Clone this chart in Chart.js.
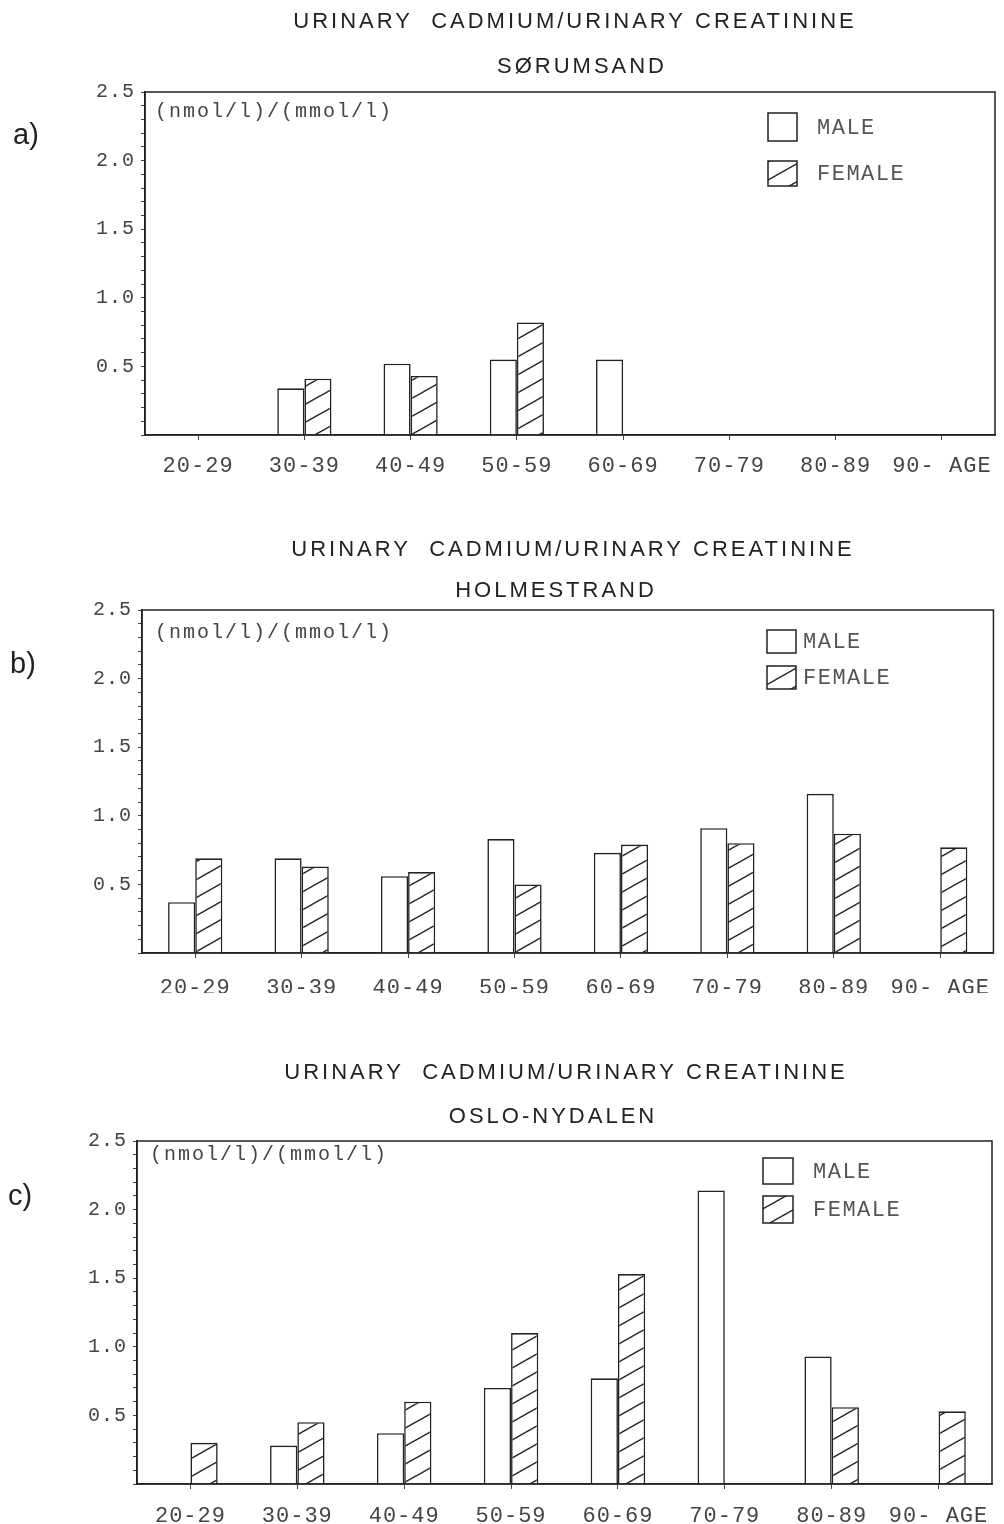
<!DOCTYPE html>
<html>
<head>
<meta charset="utf-8">
<script src="https://cdn.jsdelivr.net/npm/chart.js@4.4.0/dist/chart.umd.min.js"></script>
<style>
  html, body { margin: 0; padding: 0; background: #fff; }
  #wrap { position: relative; width: 1004px; height: 1524px; }
  canvas { position: absolute; left: 0; top: 0; }
</style>
</head>
<body>
<div id="wrap">
  <canvas id="chartA" width="1004" height="1524"></canvas>
  <canvas id="chartB" width="1004" height="1524"></canvas>
  <canvas id="chartC" width="1004" height="1524"></canvas>
</div>
<script>
// age groups and y tick labels
const ageGroups = ['20-29', '30-39', '40-49', '50-59', '60-69', '70-79', '80-89', '90-'];
const axisTitle = 'AGE';
const yTickLabels = ['0.5', '1.0', '1.5', '2.0', '2.5'];
const seriesNames = ['MALE', 'FEMALE'];
const mainTitle = 'URINARY  CADMIUM/URINARY CREATININE';
const unitLabel = '(nmol/l)/(mmol/l)';

// a) Sørumsand
const sorumsandMale   = [null, 0.34, 0.52, 0.55, 0.55, null, null, null];
const sorumsandFemale = [null, 0.41, 0.43, 0.82, null, null, null, null];

// b) Holmestrand
const holmestrandMale   = [0.37, 0.69, 0.56, 0.83, 0.73, 0.91, 1.16, null];
const holmestrandFemale = [0.69, 0.63, 0.59, 0.50, 0.79, 0.80, 0.87, 0.77];

// c) Oslo-Nydalen
const osloMale   = [null, 0.28, 0.37, 0.70, 0.77, 2.14, 0.93, null];
const osloFemale = [0.30, 0.45, 0.60, 1.10, 1.53, null, 0.56, 0.53];

const ink = '#222';
const mono = '"Liberation Mono", "Courier New", monospace';
const sans = '"Liberation Sans", Arial, sans-serif';

function makeHatch(ctx) {
    const w = 32, h = 18;
    const tile = document.createElement('canvas');
    tile.width = w; tile.height = h;
    const g = tile.getContext('2d');
    g.fillStyle = '#fff';
    g.fillRect(0, 0, w, h);
    g.strokeStyle = ink;
    g.lineWidth = 1.5;
    // same diagonal drawn three times so the tile corners join up
    [-h, 0, h].forEach(dy => {
        g.beginPath();
        g.moveTo(-4, h + dy + 4 * h / w);
        g.lineTo(w + 4, dy - 4 * h / w);
        g.stroke();
    });
    return ctx.createPattern(tile, 'repeat');
}

function yLabel(value) {
    const s = yTickLabels.find(l => Math.abs(Number(l) - value) < 1e-6);
    return s || '';
}

// frame round the plot area
const frame = {
    id: 'frame',
    afterDatasetsDraw(chart) {
        const a = chart.chartArea;
        const ctx = chart.ctx;
        ctx.save();
        ctx.strokeStyle = ink;
        ctx.lineWidth = 1.5;
        ctx.strokeRect(a.left, a.top, a.right - a.left, a.bottom - a.top);
        ctx.restore();
    }
};

// titles, panel letter, unit and legend
const panelText = {
    id: 'panelText',
    beforeDraw(chart) {
        chart.ctx.letterSpacing = '1px';
    },
    afterDraw(chart, args, o) {
        const ctx = chart.ctx;
        ctx.save();
        ctx.textBaseline = 'middle';

        ctx.fillStyle = '#222';
        ctx.textAlign = 'center';
        ctx.font = '22px ' + sans;
        ctx.letterSpacing = '3px';
        ctx.fillText(mainTitle, o.title[0], o.title[1]);
        ctx.fillText(o.place, o.place_xy[0], o.place_xy[1]);

        ctx.textAlign = 'left';
        ctx.letterSpacing = '0px';
        ctx.font = '29px ' + sans;
        ctx.fillText(o.letter, o.letter_xy[0], o.letter_xy[1]);

        ctx.fillStyle = '#444';
        ctx.font = '20px ' + mono;
        ctx.letterSpacing = '2px';
        ctx.fillText(unitLabel, o.unit[0], o.unit[1]);

        // legend
        ctx.font = '22px ' + mono;
        ctx.letterSpacing = '1.5px';
        chart.data.datasets.forEach((ds, i) => {
            const b = o.legend[i];
            ctx.fillStyle = ds.backgroundColor;
            ctx.fillRect(b[0], b[1], b[2], b[3]);
            ctx.strokeStyle = ink;
            ctx.lineWidth = 1.5;
            ctx.strokeRect(b[0], b[1], b[2], b[3]);
            ctx.fillStyle = '#555';
            ctx.fillText(ds.label, o.legendTextX, b[1] + b[3] / 2 + 1);
        });
        ctx.restore();
    }
};

function makeChart(id, male, female, p) {
    const canvas = document.getElementById(id);
    const ctx = canvas.getContext('2d');
    const xH = 40, yW = 60;
    return new Chart(ctx, {
        type: 'bar',
        data: {
            labels: ageGroups,
            datasets: [
                {
                    label: seriesNames[0],
                    data: male,
                    backgroundColor: '#fff',
                    borderColor: ink,
                    borderWidth: 1.6
                },
                {
                    label: seriesNames[1],
                    data: female,
                    backgroundColor: makeHatch(ctx),
                    borderColor: ink,
                    borderWidth: 1.6
                }
            ]
        },
        options: {
            responsive: false,
            animation: false,
            events: [],
            layout: {
                padding: {
                    left: p.left - yW,
                    right: 1004 - p.right,
                    top: p.top,
                    bottom: 1524 - p.bottom - xH
                }
            },
            datasets: {
                bar: { categoryPercentage: 0.51, barPercentage: 1.0 }
            },
            plugins: {
                legend: { display: false },
                tooltip: { enabled: false },
                panelText: p.text
            },
            scales: {
                x: {
                    afterFit(s) { s.height = xH; },
                    border: { color: ink, width: 1.5 },
                    grid: { offset: false, drawOnChartArea: false, tickLength: 5, color: '#444' },
                    ticks: {
                        padding: p.xPad,
                        color: '#444',
                        maxRotation: 0,
                        autoSkip: false,
                        font: { family: mono, size: 22 },
                        callback: (v, i) => i === ageGroups.length - 1 ? ageGroups[i] + ' ' + axisTitle : ageGroups[i]
                    }
                },
                y: {
                    min: 0,
                    max: 2.5,
                    afterFit(s) { s.width = yW; },
                    border: { color: ink, width: 1.5 },
                    grid: { drawOnChartArea: false, tickLength: 4, color: '#444' },
                    ticks: {
                        stepSize: 0.1,
                        maxTicksLimit: 40,
                        autoSkip: false,
                        padding: 6,
                        color: '#444',
                        font: { family: mono, size: 20 },
                        callback: v => yLabel(v)
                    }
                }
            }
        },
        plugins: [frame, panelText]
    });
}

makeChart('chartA', sorumsandMale, sorumsandFemale, {
    left: 145, right: 995, top: 92, bottom: 435, xPad: 13,
    text: {
        title: [575, 22], place: 'SØRUMSAND', place_xy: [582, 67],
        letter: 'a)', letter_xy: [13, 136], unit: [155, 112],
        legend: [[768, 113, 29, 28], [768, 161, 29, 25]], legendTextX: 817
    }
});

makeChart('chartB', holmestrandMale, holmestrandFemale, {
    left: 142, right: 995, top: 610, bottom: 953, xPad: 17,
    text: {
        title: [573, 550], place: 'HOLMESTRAND', place_xy: [556, 591],
        letter: 'b)', letter_xy: [10, 665], unit: [155, 633],
        legend: [[767, 630, 29, 23], [767, 666, 29, 23]], legendTextX: 803
    }
});

makeChart('chartC', osloMale, osloFemale, {
    left: 137, right: 992, top: 1141, bottom: 1484, xPad: 14,
    text: {
        title: [566, 1073], place: 'OSLO-NYDALEN', place_xy: [553, 1117],
        letter: 'c)', letter_xy: [8, 1197], unit: [150, 1155],
        legend: [[763, 1158, 30, 26], [763, 1196, 30, 27]], legendTextX: 813
    }
});
</script>
</body>
</html>
